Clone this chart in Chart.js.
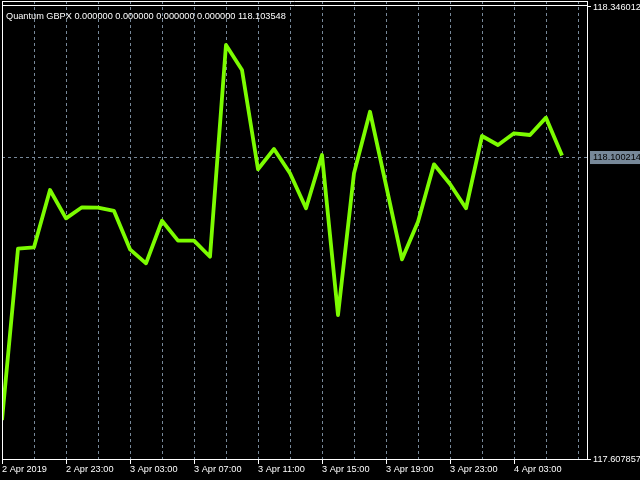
<!DOCTYPE html>
<html>
<head>
<meta charset="utf-8">
<script src="https://cdn.jsdelivr.net/npm/chart.js@4"></script>
<style>
  html, body { margin: 0; padding: 0; background: #000; }
  canvas { display: block; }
</style>
</head>
<body>
<canvas id="grafico" width="640" height="480"></canvas>
<script>
// valores por hora (desde 2 Apr 19:00)
const valores = [
  117.6715, 117.9513, 117.9536, 118.0472, 118.0009, 118.0189, 118.0183, 118.0129,
  117.9503, 117.9274, 117.9970, 117.9644, 117.9644, 117.9382, 118.2840, 118.2431,
  118.0810, 118.1141, 118.0744, 118.0173, 118.1043, 117.8430, 118.0744, 118.1750,
  118.0553, 117.9340, 117.9954, 118.0891, 118.0570, 118.0173, 118.1353, 118.1207,
  118.1398, 118.1370, 118.1653, 118.1035
];
// etiquetas del eje x, una cada 4 horas
const etiquetasTiempo = [
  "2 Apr 2019", "2 Apr 23:00", "3 Apr 03:00", "3 Apr 07:00", "3 Apr 11:00",
  "3 Apr 15:00", "3 Apr 19:00", "3 Apr 23:00", "4 Apr 03:00"
];
const pasoEtiqueta = 4;
// escala de precios
const precioMin = 117.607857;
const precioMax = 118.346012;
const precioActual = 118.100214;
const tituloTexto = "Quantum GBPX 0.000000 0.000000 0.000000 0.000000 118.103548";

const colorGrilla = "#778899";
const fuente = { family: "Liberation Sans", size: 9.2 };

// marco y titulo del grafico
const marcoPlugin = {
  id: "marco",
  afterDraw(chart) {
    const ctx = chart.ctx;
    const a = chart.chartArea;
    ctx.save();
    ctx.strokeStyle = "#fff";
    ctx.lineWidth = 1;
    ctx.beginPath();
    ctx.moveTo(a.left + 0.5, a.top);
    ctx.lineTo(a.left + 0.5, a.bottom);
    ctx.moveTo(a.left, a.top + 0.5);
    ctx.lineTo(a.right, a.top + 0.5);
    ctx.moveTo(a.left, a.top + 4.5);
    ctx.lineTo(a.right, a.top + 4.5);
    ctx.stroke();
    ctx.fillStyle = "#fff";
    ctx.font = fuente.size + "px '" + fuente.family + "'";
    ctx.textBaseline = "middle";
    ctx.fillText(tituloTexto, a.left + 4, 16);
    ctx.restore();
  }
};

const sinPadding = s => {
  s.paddingTop = 0;
  s.paddingBottom = 0;
  s.paddingLeft = 0;
  s.paddingRight = 0;
};

const ultimoX = valores.length - 1 + 1.5625;
const pxPorUnidad = 452 / (precioMax - precioMin);

const ctx = document.getElementById("grafico");
new Chart(ctx, {
  type: "line",
  data: {
    datasets: [{
      data: valores.map((v, i) => ({ x: i, y: v })),
      borderColor: "#7CFC00",
      borderWidth: 3.8,
      borderJoinStyle: "round",
      pointRadius: 0,
      tension: 0
    }]
  },
  options: {
    responsive: false,
    animation: false,
    layout: { padding: { left: 2, top: 1, right: 0, bottom: 0 } },
    plugins: { legend: { display: false }, tooltip: { enabled: false } },
    scales: {
      x: {
        type: "linear",
        min: 0,
        max: ultimoX,
        afterBuildTicks: s => {
          s.ticks = [];
          for (let k = 0; k <= 36; k += 2) s.ticks.push({ value: k });
        },
        afterFit: s => { s.height = 21; sinPadding(s); },
        grid: {
          color: c => (c.tick && c.tick.value > 0 ? colorGrilla : "transparent"),
          tickColor: c => (c.tick && c.tick.value % pasoEtiqueta === 0 && c.tick.value / pasoEtiqueta < etiquetasTiempo.length ? "#fff" : "transparent"),
          tickLength: 5,
          lineWidth: 1
        },
        border: { color: "#fff", width: 1, dash: [3, 3] },
        ticks: {
          color: "#fff",
          font: fuente,
          align: "start",
          maxRotation: 0,
          autoSkip: false,
          padding: 0,
          callback: v => (v % pasoEtiqueta === 0 ? (etiquetasTiempo[v / pasoEtiqueta] || "") : "")
        }
      },
      y: {
        position: "right",
        min: precioMin,
        max: precioMax + 6 / pxPorUnidad,
        afterBuildTicks: s => {
          s.ticks = [precioMin, precioActual, precioMax].map(v => ({ value: v }));
        },
        afterFit: s => { s.width = 53; sinPadding(s); },
        grid: {
          color: c => (c.tick && c.tick.value === precioActual ? colorGrilla : "transparent"),
          tickColor: c => (c.tick && c.tick.value !== precioActual ? "#fff" : "transparent"),
          tickLength: 4,
          lineWidth: 1
        },
        border: { color: "#fff", width: 1, dash: [3, 3] },
        ticks: {
          color: c => (c.tick && c.tick.value === precioActual ? "#000" : "#fff"),
          font: fuente,
          padding: 2,
          showLabelBackdrop: c => c.tick && c.tick.value === precioActual,
          backdropColor: colorGrilla,
          backdropPadding: { top: 1, bottom: 1, left: 3, right: 3 },
          callback: v => v.toFixed(6)
        }
      }
    }
  },
  plugins: [marcoPlugin]
});
</script>
</body>
</html>
